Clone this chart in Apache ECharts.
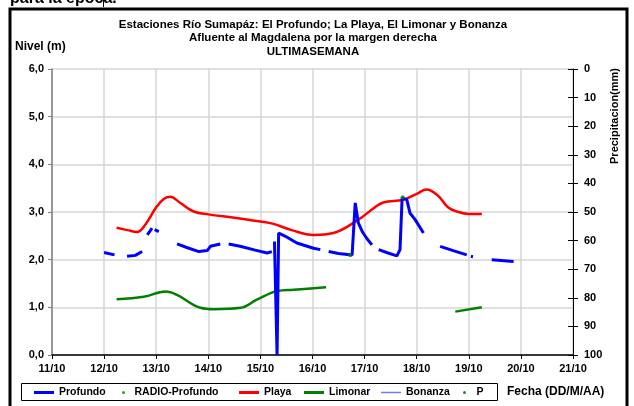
<!DOCTYPE html>
<html>
<head>
<meta charset="utf-8">
<script src="https://cdn.jsdelivr.net/npm/echarts@6/dist/echarts.min.js"></script>
<style>
  html, body { margin: 0; padding: 0; background: #fff; }
  #chart { width: 634px; height: 406px; }
</style>
</head>
<body>
<div id="chart"></div>
<script>
/* x values are days of October */
var dayTicks = [11, 12, 13, 14, 15, 16, 17, 18, 19, 20, 21];

var profundo = [
    [12.0, 2.15], [12.2, 2.10], null,
    [12.44, 2.07], [12.6, 2.09], [12.73, 2.17], null,
    [12.83, 2.52], [12.92, 2.66], null,
    [12.97, 2.63], [13.05, 2.59], null,
    [13.40, 2.33], [13.6, 2.25], [13.82, 2.17], [13.98, 2.19], [14.04, 2.28], [14.23, 2.33], null,
    [14.39, 2.33], [14.61, 2.28], [14.9, 2.20], [15.13, 2.14], [15.22, 2.17], null,
    [15.27, 2.38], [15.32, 0.0], [15.35, 2.56], [15.48, 2.49], [15.70, 2.35], [16.02, 2.24], [16.15, 2.21], null,
    [16.31, 2.17], [16.5, 2.13], [16.76, 2.10], [16.79, 2.10], [16.82, 3.19], [16.88, 2.77], [16.96, 2.58], [17.04, 2.45], [17.14, 2.31], null,
    [17.27, 2.21], [17.45, 2.14], [17.62, 2.08], [17.68, 2.21], [17.72, 3.29], [17.81, 3.26], [17.87, 2.98], [17.97, 2.84], [18.13, 2.56], null,
    [18.45, 2.28], [18.7, 2.19], [18.96, 2.10], null,
    [19.04, 2.07], [19.08, 2.06], null,
    [19.44, 2.00], [19.86, 1.96]
];

var radioProfundo = [[16.72, 2.10], [17.73, 3.31]];

var playa = [
    [12.24, 2.67], [12.45, 2.62], [12.63, 2.58], [12.8, 2.75], [13.0, 3.10], [13.15, 3.28],
    [13.27, 3.32], [13.45, 3.20], [13.72, 3.01], [14.0, 2.95], [14.5, 2.88], [15.0, 2.80],
    [15.25, 2.75], [15.6, 2.62], [16.02, 2.52], [16.4, 2.56], [16.88, 2.84], [17.2, 3.10],
    [17.36, 3.20], [17.75, 3.26], [18.0, 3.38], [18.19, 3.47], [18.4, 3.35], [18.6, 3.10],
    [18.77, 3.01], [19.0, 2.96], [19.25, 2.96]
];

var limonar = [
    [12.24, 1.17], [12.76, 1.22], [13.18, 1.33], [13.40, 1.26], [13.85, 0.99], [14.10, 0.96],
    [14.62, 0.99], [14.93, 1.16], [15.32, 1.34], [15.64, 1.37], [16.26, 1.42], null,
    [18.74, 0.91], [19.25, 1.00]
];

var bonanza = [];
var precip = [];

var chart = echarts.init(document.getElementById('chart'), null, {renderer: 'canvas'});

var fontFam = 'Liberation Sans, Arial, sans-serif';

function oneLegend(name, left, width, height, icon) {
    return {
        data: [{name: name, icon: icon}],
        left: left,
        top: 387,
        padding: 0,
        itemWidth: width,
        itemHeight: height,
        selectedMode: false,
        textStyle: {color: '#000', fontWeight: 'bold', fontSize: 10.5, fontFamily: fontFam}
    };
}

var option = {
    animation: false,
    backgroundColor: '#fff',
    title: {
        text: 'Estaciones Río Sumapáz: El Profundo; La Playa, El Limonar y Bonanza\nAfluente al Magdalena por la margen derecha\nULTIMASEMANA',
        left: 313,
        textAlign: 'center',
        top: 18,
        padding: 0,
        textStyle: {fontSize: 11.5, fontWeight: 'bold', color: '#000', lineHeight: 13.5, fontFamily: fontFam}
    },
    legend: [
        oneLegend('Profundo', 34, 20, 3, 'rect'),
        oneLegend('RADIO-Profundo', 122, 12, 3, 'circle'),
        oneLegend('Playa', 239, 20, 3, 'rect'),
        oneLegend('Limonar', 304, 20, 3, 'rect'),
        oneLegend('Bonanza', 381, 20, 1.5, 'rect'),
        oneLegend('P', 463, 14, 3, 'circle')
    ],
    grid: {left: 52, right: 61, top: 69, bottom: 51},
    xAxis: {
        type: 'value',
        min: 11,
        max: 21,
        interval: 1,
        axisLine: {lineStyle: {color: '#000', width: 1.5}},
        axisTick: {length: 4, lineStyle: {color: '#000'}},
        axisLabel: {
            color: '#000', fontWeight: 'bold', fontSize: 11, fontFamily: fontFam, margin: 8,
            formatter: function (v) { return v + '/10'; }
        },
        splitLine: {show: true, lineStyle: {color: '#d6d6d6', width: 1.5}}
    },
    yAxis: [
        {
            type: 'value',
            min: 0,
            max: 6,
            interval: 1,
            axisLine: {show: true, lineStyle: {color: '#808080', width: 1.5}},
            axisTick: {show: true, length: 4, lineStyle: {color: '#808080'}},
            axisLabel: {
                color: '#000', fontWeight: 'bold', fontSize: 11, fontFamily: fontFam, margin: 8,
                formatter: function (v) { return v.toFixed(1).replace('.', ','); }
            },
            splitLine: {show: true, lineStyle: {color: '#d6d6d6', width: 1.5}}
        },
        {
            type: 'value',
            position: 'right',
            min: 0,
            max: 100,
            interval: 10,
            inverse: true,
            axisLine: {show: true, lineStyle: {color: '#000', width: 1}},
            axisTick: {show: true, length: 5, lineStyle: {color: '#000'}},
            axisLabel: {color: '#000', fontWeight: 'bold', fontSize: 11, fontFamily: fontFam, margin: 11},
            splitLine: {show: false}
        },
        {
            /* inner half of the crossing ticks on the right axis */
            type: 'value',
            position: 'right',
            min: 0,
            max: 100,
            interval: 10,
            inverse: true,
            axisLine: {show: false},
            axisTick: {show: true, inside: true, length: 5, lineStyle: {color: '#000'}},
            axisLabel: {show: false},
            splitLine: {show: false}
        }
    ],
    series: [
        {
            name: 'Profundo', type: 'line', data: profundo, yAxisIndex: 0,
            symbol: 'none', connectNulls: false,
            lineStyle: {color: '#0000ff', width: 3}, itemStyle: {color: '#0000ff'}, z: 4
        },
        {
            name: 'RADIO-Profundo', type: 'scatter', data: radioProfundo, yAxisIndex: 0,
            symbolSize: 4, itemStyle: {color: '#008000'}, z: 5
        },
        {
            name: 'Playa', type: 'line', data: playa, yAxisIndex: 0,
            symbol: 'none', smooth: 0.4,
            lineStyle: {color: '#ff0000', width: 2.5}, itemStyle: {color: '#ff0000'}, z: 3
        },
        {
            name: 'Limonar', type: 'line', data: limonar, yAxisIndex: 0,
            symbol: 'none', smooth: 0.4, connectNulls: false,
            lineStyle: {color: '#008000', width: 2.5}, itemStyle: {color: '#008000'}, z: 3
        },
        {
            name: 'Bonanza', type: 'line', data: bonanza, yAxisIndex: 0,
            symbol: 'none',
            lineStyle: {color: '#7777ee', width: 1}, itemStyle: {color: '#7777ee'}
        },
        {
            name: 'P', type: 'scatter', data: precip, yAxisIndex: 1,
            symbolSize: 3, itemStyle: {color: '#006400'}
        }
    ],
    graphic: [
        {
            type: 'text', left: 10, top: -9,
            style: {text: 'para la época.', fill: '#000', font: 'bold 16px ' + fontFam}
        },
        {
            type: 'line', shape: {x1: 103.5, y1: 0, x2: 103.5, y2: 7},
            style: {stroke: '#000', lineWidth: 1}
        },
        {
            type: 'rect', shape: {x: 10, y: 9, width: 617, height: 420},
            style: {fill: null, stroke: '#000', lineWidth: 3}, z: 100
        },
        {
            type: 'rect', shape: {x: 21.5, y: 383.5, width: 476, height: 17},
            style: {fill: null, stroke: '#000', lineWidth: 1}
        },
        {
            type: 'text', left: 15, top: 41,
            style: {text: 'Nivel (m)', fill: '#000', font: 'bold 12px ' + fontFam}
        },
        {
            type: 'text', left: 507, top: 386,
            style: {text: 'Fecha (DD/M/AA)', fill: '#000', font: 'bold 12px ' + fontFam}
        },
        {
            type: 'text', x: 615, y: 116, rotation: Math.PI / 2,
            style: {text: 'Precipitacion(mm)', fill: '#000', font: 'bold 11px ' + fontFam,
                    align: 'center', verticalAlign: 'middle'}
        }
    ]
};

chart.setOption(option);
</script>
</body>
</html>
